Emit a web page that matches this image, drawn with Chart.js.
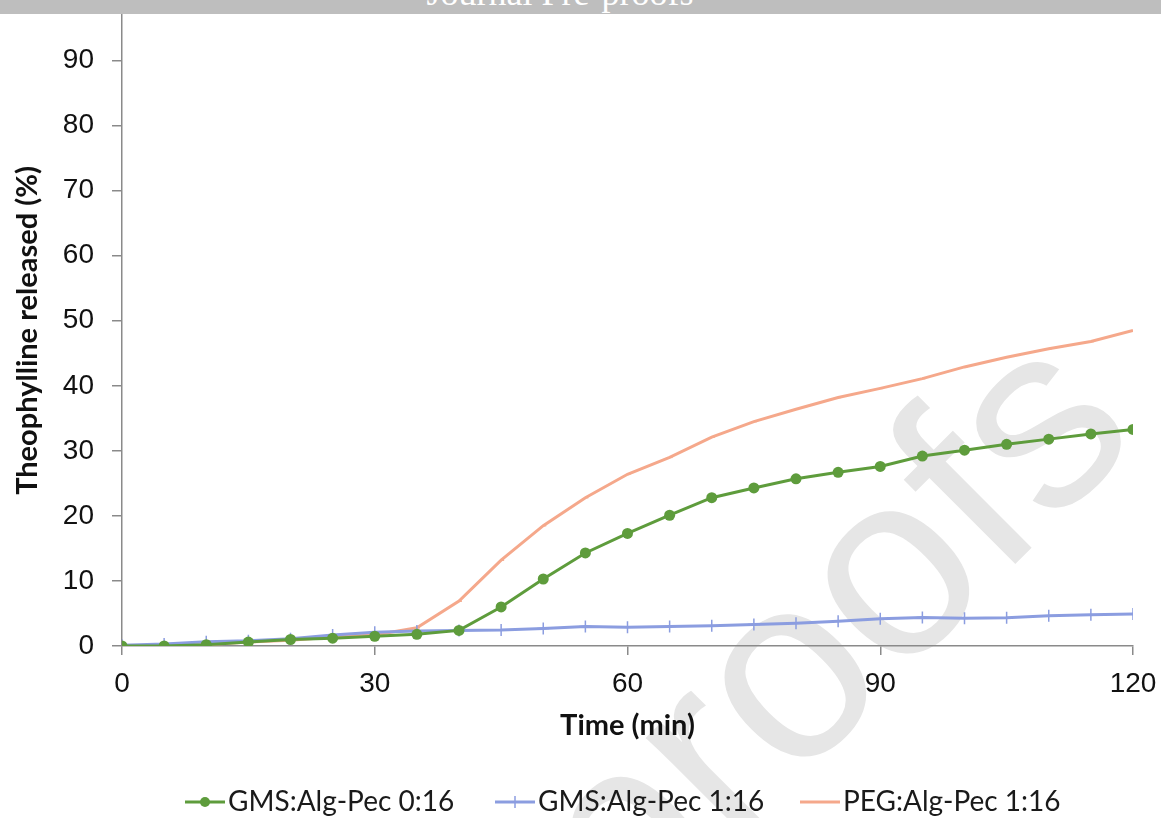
<!DOCTYPE html>
<html>
<head>
<meta charset="utf-8">
<script src="https://cdn.jsdelivr.net/npm/chart.js@4.4.1/dist/chart.umd.min.js"></script>
<style>
  html, body { margin: 0; padding: 0; background: #fff; }
  #wrap { position: relative; width: 1161px; height: 818px; overflow: hidden; }
  #band { position: absolute; left: 0; top: 0; width: 1161px; height: 14px; background: #bebebe; overflow: hidden; z-index: 3; }
  #band span { position: absolute; left: 0; width: 1120px; text-align: center; top: -25px; line-height: 36px;
    font-family: "Liberation Serif", "Times New Roman", serif; font-size: 36px; color: #fff; }
  #mark { position: absolute; left: 822px; top: 630px; z-index: 0;
    transform: translate(-50%, -50%) rotate(-45deg);
    font-family: "Liberation Sans", Arial, sans-serif; font-size: 262px; color: #e6e6e6; white-space: nowrap; line-height: 1; }
  canvas { position: absolute; left: 0; top: 0; z-index: 1; }
</style>
</head>
<body>
<div id="wrap">
  <div id="band"><span>Journal Pre-proofs</span></div>
  <div id="mark">proofs</div>
  <canvas id="chart" width="1161" height="818"></canvas>
</div>
<script>
// release profile, sampled every 5 min
const times = [0, 5, 10, 15, 20, 25, 30, 35, 40, 45, 50, 55, 60, 65, 70, 75, 80, 85, 90, 95, 100, 105, 110, 115, 120];
const gms016 = [0, 0, 0.2, 0.6, 1.0, 1.2, 1.5, 1.8, 2.4, 6.0, 10.3, 14.3, 17.3, 20.1, 22.8, 24.3, 25.7, 26.7, 27.6, 29.2, 30.1, 31.0, 31.8, 32.6, 33.3];
const gms116 = [0.1, 0.3, 0.65, 0.8, 1.1, 1.7, 2.1, 2.3, 2.4, 2.45, 2.7, 3.0, 2.9, 3.0, 3.1, 3.3, 3.5, 3.8, 4.2, 4.4, 4.25, 4.35, 4.65, 4.8, 4.9];
const peg116 = [0, 0.1, 0.2, 0.6, 0.9, 1.4, 1.7, 2.8, 6.9, 13.2, 18.5, 22.8, 26.4, 29.0, 32.1, 34.5, 36.4, 38.2, 39.6, 41.1, 42.9, 44.4, 45.7, 46.8, 48.5];
const seriesNames = ["GMS:Alg-Pec 0:16", "GMS:Alg-Pec 1:16", "PEG:Alg-Pec 1:16"];
const xTicks = [0, 30, 60, 90, 120];
const yTicks = [0, 10, 20, 30, 40, 50, 60, 70, 80, 90];

const GREEN = "#5e9c3c";
const BLUE = "#8b9de0";
const ORANGE = "#f5a88b";
const AXIS = "#8a8a8a";

function pts(ys) {
  return times.map((t, i) => ({ x: t, y: ys[i] }));
}

// legend drawn under the chart, line + marker + label
const bottomLegend = {
  id: "bottomLegend",
  afterDraw(chart) {
    const ctx = chart.ctx;
    const y = 802;
    const starts = [185, 495, 800];
    const colors = [GREEN, BLUE, ORANGE];
    ctx.save();
    ctx.font = "28px Lato, 'Open Sans', sans-serif";
    ctx.textBaseline = "middle";
    starts.forEach((x0, i) => {
      ctx.strokeStyle = colors[i];
      ctx.lineWidth = 3;
      ctx.beginPath();
      ctx.moveTo(x0, y);
      ctx.lineTo(x0 + 40, y);
      ctx.stroke();
      const cx = x0 + 20;
      if (i === 0) {
        ctx.fillStyle = colors[i];
        ctx.beginPath();
        ctx.arc(cx, y, 5, 0, Math.PI * 2);
        ctx.fill();
      } else if (i === 1) {
        ctx.lineWidth = 1.5;
        ctx.beginPath();
        ctx.moveTo(cx, y - 6);
        ctx.lineTo(cx, y + 6);
        ctx.stroke();
      }
      ctx.fillStyle = "#1a1a1a";
      ctx.fillText(seriesNames[i], x0 + 43, y);
    });
    ctx.restore();
  },
};

new Chart(document.getElementById("chart"), {
  type: "line",
  data: {
    datasets: [
      {
        label: seriesNames[0],
        data: pts(gms016),
        borderColor: GREEN,
        backgroundColor: GREEN,
        borderWidth: 3,
        pointStyle: "circle",
        pointRadius: 5.5,
        pointBorderWidth: 0,
      },
      {
        label: seriesNames[1],
        data: pts(gms116),
        borderColor: BLUE,
        backgroundColor: BLUE,
        borderWidth: 3,
        pointStyle: "cross",
        pointRadius: 6,
        pointBorderWidth: 1.5,
      },
      {
        label: seriesNames[2],
        data: pts(peg116),
        borderColor: ORANGE,
        backgroundColor: ORANGE,
        borderWidth: 3,
        pointStyle: "dash",
        pointRadius: 3,
        pointBorderWidth: 1.5,
      },
    ],
  },
  options: {
    responsive: false,
    animation: false,
    layout: { padding: { top: 15, right: 28, left: 0, bottom: 0 } },
    plugins: {
      legend: { display: false },
      tooltip: { enabled: false },
    },
    scales: {
      x: {
        type: "linear",
        min: 0,
        max: 120,
        afterBuildTicks: (axis) => { axis.ticks = xTicks.map((v) => ({ value: v })); },
        afterFit: (scale) => {
          scale.height = 172;
          scale.paddingLeft = 0;
          scale.paddingRight = 0;
        },
        border: { color: AXIS, width: 1.5 },
        grid: { drawOnChartArea: false, color: AXIS, lineWidth: 1.5, tickLength: 9 },
        ticks: {
          padding: 12,
          color: "#111",
          font: { family: "'Liberation Sans', Arial, sans-serif", size: 28 },
          maxRotation: 0,
        },
        title: {
          display: true,
          text: "Time (min)",
          color: "#111",
          font: { family: "Lato, 'Open Sans', sans-serif", size: 29, weight: "bold" },
          padding: { top: 0, bottom: 75 },
        },
      },
      y: {
        min: 0,
        max: 97,
        afterBuildTicks: (axis) => { axis.ticks = yTicks.map((v) => ({ value: v })); },
        afterFit: (scale) => {
          scale.width = 122;
          scale.paddingTop = 0;
          scale.paddingBottom = 0;
        },
        border: { color: AXIS, width: 1.5 },
        grid: { drawOnChartArea: false, color: AXIS, lineWidth: 1.5, tickLength: 10 },
        ticks: {
          padding: 18,
          color: "#111",
          font: { family: "'Liberation Sans', Arial, sans-serif", size: 28 },
        },
        title: {
          display: true,
          text: "Theophylline released (%)",
          color: "#111",
          font: { family: "Lato, 'Open Sans', sans-serif", size: 29, weight: "bold" },
          padding: { top: 10, bottom: 0 },
        },
      },
    },
  },
  plugins: [bottomLegend],
});
</script>
</body>
</html>
